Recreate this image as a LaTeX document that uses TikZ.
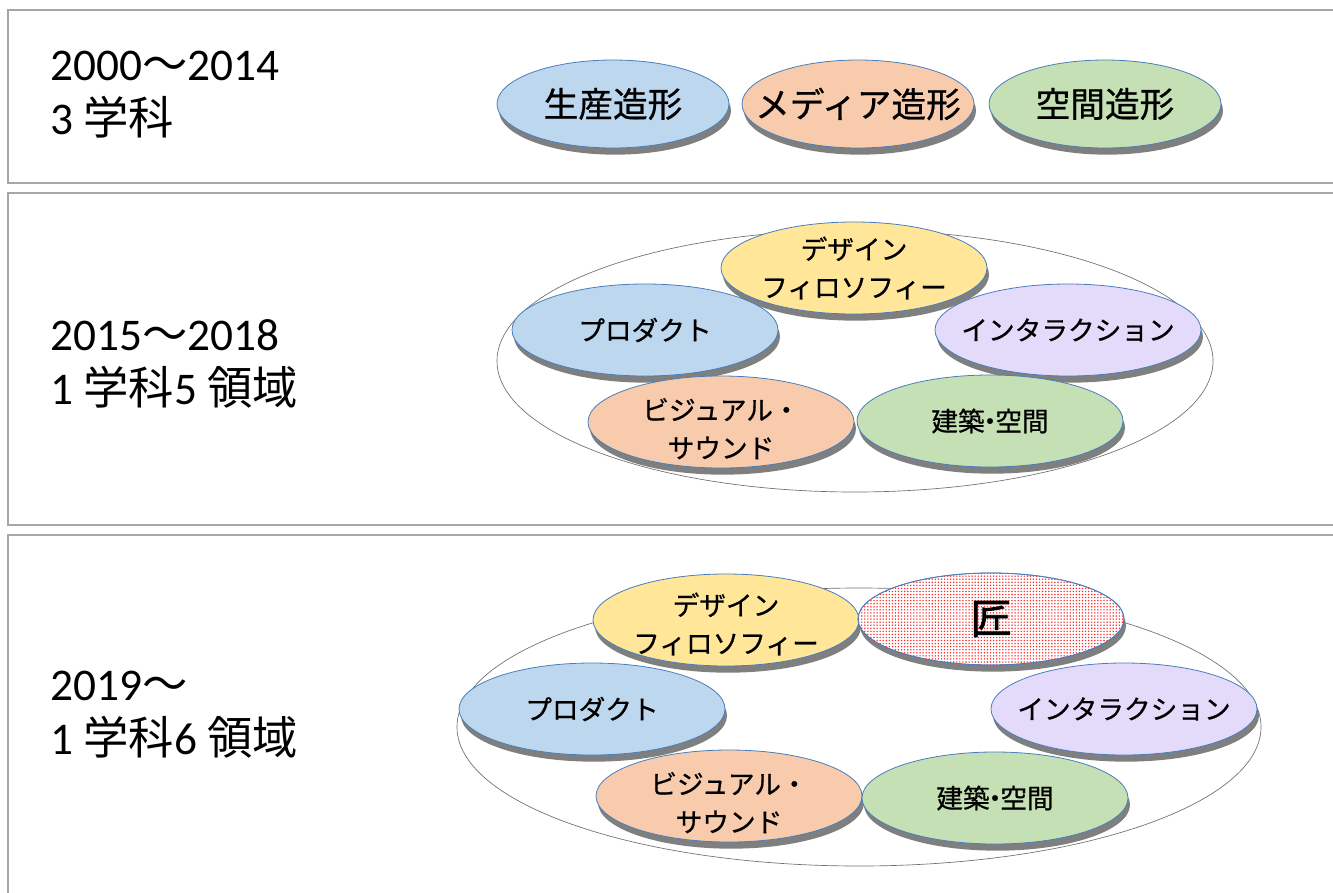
\documentclass[tikz,border=0pt]{standalone}
\usepackage{fontspec}
\setmainfont{Carlito}
\newfontfamily\cjk{Noto Sans CJK JP}
\newfontfamily\cjkm[FakeBold=0.7]{Noto Sans CJK JP}
\newfontfamily\cjkb[FakeBold=1.8]{Noto Sans CJK JP}
\usetikzlibrary{shapes.geometric,shadows,patterns.meta}
\definecolor{cblue}{HTML}{BDD7EE}
\definecolor{corange}{HTML}{F8CBAD}
\definecolor{cgreen}{HTML}{C5E0B4}
\definecolor{cyellow}{HTML}{FFE699}
\definecolor{cpurple}{HTML}{E4DAFA}
\definecolor{outl}{HTML}{4A7EBB}
\definecolor{shgray}{HTML}{7F7F7F}
\definecolor{boxgray}{HTML}{A6A6A6}
\definecolor{bigline}{HTML}{6E6E6E}
\begin{document}
\begin{tikzpicture}[x=0.75pt,y=-0.75pt,
  boxline/.style={draw=boxgray,line width=1.3pt},
  disk/.style={ellipse,draw=outl,line width=0.6pt,inner sep=0pt,
    minimum width=199.5pt,minimum height=69pt,
    drop shadow={shadow xshift=1.5pt,shadow yshift=-5pt,opacity=1,fill=shgray}},
  smalldisk/.style={disk,minimum width=174pt,minimum height=66pt},
  bigell/.style={ellipse,draw=bigline,line width=0.5pt,inner sep=0pt},
  takumi/.style={disk,fill=white,
    postaction={pattern={Dots[radius=0.6pt,distance=2.3pt]},pattern color=red!85},
    postaction={draw=outl,line width=0.6pt}},
  yearlbl/.style={anchor=base west,inner sep=0pt,font=\fontsize{34}{40}\selectfont},
  lblA/.style={inner sep=0pt,font=\cjkm\fontsize{26}{32}\selectfont},
  lblB/.style={inner sep=0pt,align=center,font=\cjkm\fontsize{20}{28.5}\selectfont},
  lblT/.style={inner sep=0pt,font=\cjkb\fontsize{31}{36}\selectfont}
]
\useasboundingbox (0,0) rectangle (1333,892);

% panels
\draw[boxline] (1345,10) -- (8,10) -- (8,183) -- (1345,183);
\draw[boxline] (1345,193) -- (8,193) -- (8,525) -- (1345,525);
\draw[boxline] (1345,535) -- (8,535) -- (8,900);

% left labels
\node[yearlbl] (y1a) at (50,80) {2000{\cjk 〜}2014};
\node[yearlbl] (y1b) at (50,134) {3 {\cjk 学科}};
\node[yearlbl] (y2a) at (50,350) {2015{\cjk 〜}2018};
\node[yearlbl] (y2b) at (50,404) {1 {\cjk 学科}5 {\cjk 領域}};
\node[yearlbl] (y3a) at (50,700) {2019{\cjk 〜}};
\node[yearlbl] (y3b) at (50,754) {1 {\cjk 学科}6 {\cjk 領域}};

% row 1
\node[smalldisk,fill=cblue] (r1a) at (613,104) {};
\node[lblA] at (r1a) {生産造形};
\node[smalldisk,fill=corange] (r1b) at (858,104) {};
\node[lblA] at (r1b) {メディア造形};
\node[smalldisk,fill=cgreen] (r1c) at (1105,104) {};
\node[lblA] at (r1c) {空間造形};

% row 2
\node[bigell,minimum width=537pt,minimum height=196.5pt] (big2) at (855,361) {};
\node[disk,fill=cyellow] (r2d) at (854,268) {};
\node[lblB] at (r2d) {デザイン\\フィロソフィー};
\node[disk,fill=cblue] (r2p) at (645,330) {};
\node[lblB] at (r2p) {プロダクト};
\node[disk,fill=cpurple] (r2i) at (1068,330) {};
\node[lblB] at (r2i) {インタラクション};
\node[disk,fill=corange] (r2v) at (721,422) {};
\node[lblB] at ([yshift=-5pt]r2v.center) {ビジュアル・\\サウンド};
\node[disk,fill=cgreen] (r2a) at (990,421) {};
\node[lblB] at (r2a) {建築\kern-0.3em・\kern-0.3em 空間};

% row 3
\node[bigell,minimum width=603pt,minimum height=208.5pt] (big3) at (859,727) {};
\node[disk,fill=cyellow] (r3d) at (726,620) {};
\node[lblB] at ([yshift=-3pt]r3d.center) {デザイン\\フィロソフィー};
\node[takumi] (r3t) at (991,619) {};
\node[lblT] at (r3t) {匠};
\node[disk,fill=cblue] (r3p) at (592,709) {};
\node[lblB] at (r3p) {プロダクト};
\node[disk,fill=cpurple] (r3i) at (1124,709) {};
\node[lblB] at (r3i) {インタラクション};
\node[disk,fill=corange] (r3v) at (729,796) {};
\node[lblB] at ([yshift=-5pt]r3v.center) {ビジュアル・\\サウンド};
\node[disk,fill=cgreen] (r3a) at (995,798) {};
\node[lblB] at (r3a) {建築\kern-0.3em・\kern-0.3em 空間};
\end{tikzpicture}
\end{document}
